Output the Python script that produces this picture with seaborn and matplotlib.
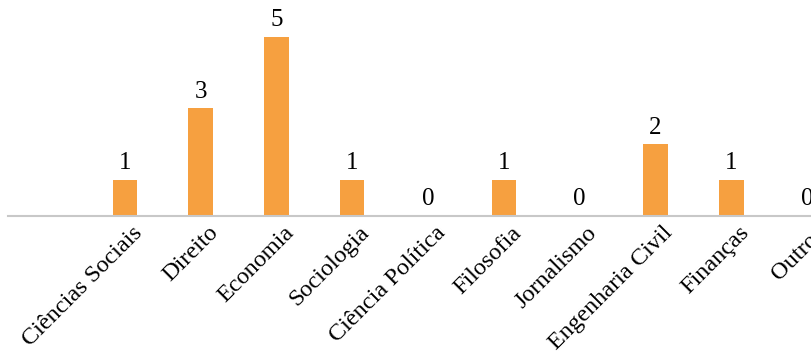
import matplotlib
matplotlib.use("Agg")
import matplotlib.pyplot as plt
import matplotlib.transforms as mtransforms
import seaborn as sns
import pandas as pd

categories = ["Ciências Sociais", "Direito", "Economia", "Sociologia", "Ciência Política",
              "Filosofia", "Jornalismo", "Engenharia Civil", "Finanças", "Outros"]
values = [1, 3, 5, 1, 0, 1, 0, 2, 1, 0]

sns.set_theme(style="white")
plt.rcParams["font.family"] = ["Liberation Serif", "DejaVu Serif"]

df = pd.DataFrame({"cat": categories, "val": values})

fig = plt.figure(figsize=(8.11, 3.51), dpi=100)
W, H = 811, 351
base_px = 215.5
ax = fig.add_axes([8 / W, (H - base_px) / H, 1 - 8 / W, base_px / H])

sns.barplot(data=df, x="cat", y="val", color="#F6A040", width=0.32,
            saturation=1, ax=ax, edgecolor="none")

ax.set_xlim(-1.54, 9.05)
ax.set_ylim(0, base_px / 35.7)

for s in ["top", "right", "left"]:
    ax.spines[s].set_visible(False)
ax.spines["bottom"].set_color("#C8C8C8")
ax.spines["bottom"].set_linewidth(1.5)
ax.set_yticks([])
ax.set_xlabel("")
ax.set_ylabel("")
ax.tick_params(axis="x", length=0, pad=5)

for i, v in enumerate(values):
    ax.annotate(str(v), (i, v), xytext=(0, 4), textcoords="offset points",
                ha="center", va="bottom", fontsize=18, color="#000000")

ax.set_xticks(range(len(categories)))
ax.set_xticklabels(categories, rotation=45, ha="right", va="top",
                   rotation_mode="anchor", fontsize=17.5, color="#000000")
offset = mtransforms.ScaledTranslation(5 / 72, 0, fig.dpi_scale_trans)
for lbl in ax.get_xticklabels():
    lbl.set_transform(lbl.get_transform() + offset)

fig.savefig("out.png", dpi=100)
